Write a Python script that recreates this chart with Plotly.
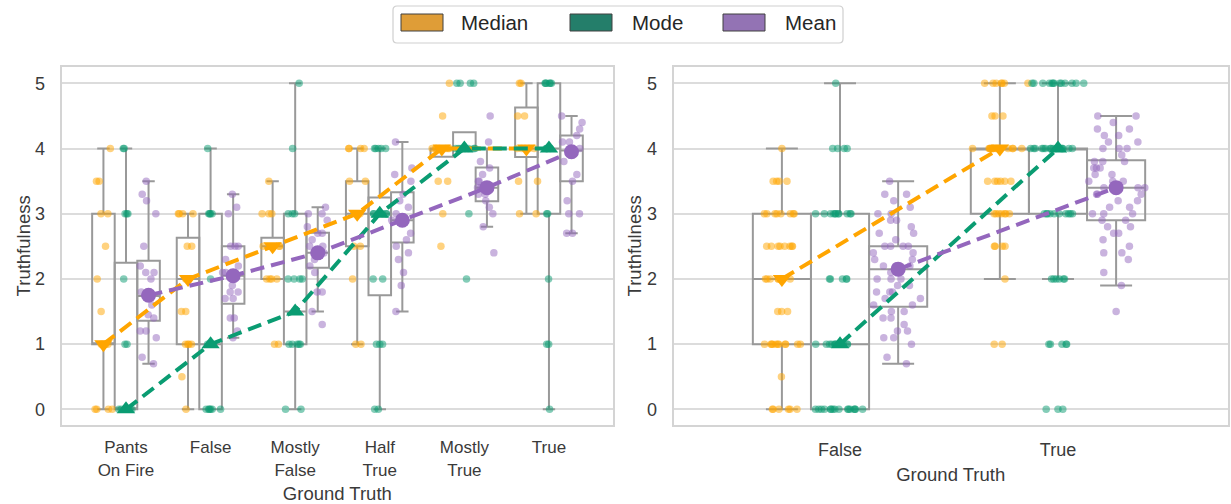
import plotly.graph_objects as go

# ---------------- data ----------------
cats_left = ["Pants On Fire", "False", "Mostly False", "Half True", "Mostly True", "True"]
ticks_left = ["Pants<br>On Fire", "False", "Mostly<br>False", "Half<br>True", "Mostly<br>True", "True"]
cats_right = ["False", "True"]

# strip points, left panel
left_median_pts = {
    "Pants On Fire": [4, 3.5, 3.5, 3, 3, 2.5, 2, 1.5, 1, 1, 1, 1, 0, 0, 0, 0],
    "False": [3, 3, 3, 3, 2.5, 2.5, 2, 2, 1.5, 1.5, 1, 1, 1, 1, 0.5, 0],
    "Mostly False": [3.5, 3, 3, 3, 2.5, 2.5, 2.5, 2, 2, 2, 2, 1, 1],
    "Half True": [4, 4, 4, 4, 3.5, 3.5, 3, 3, 2.5, 2.5, 2, 1, 1],
    "Mostly True": [5, 4.5, 4, 4, 4, 4, 4, 4, 4, 3.5, 3.5, 3, 2.5],
    "True": [5, 5, 4.5, 4.5, 4, 4, 4, 4, 4, 3.5, 3.5, 3, 3],
}
left_mode_pts = {
    "Pants On Fire": [4, 4, 3, 3, 3, 2, 1, 1, 0, 0, 0, 0, 0, 0, 0],
    "False": [4, 3, 3, 3, 3, 2, 1, 1, 1, 0, 0, 0, 0, 0, 0],
    "Mostly False": [5, 4, 3, 3, 3, 2, 2, 2, 2, 1, 1, 1, 1, 1, 0, 0],
    "Half True": [4, 4, 4, 4, 4, 3, 3, 3, 3, 3, 2, 2, 1, 1, 1, 0, 0],
    "Mostly True": [5, 5, 5, 5, 4, 4, 4, 4, 4, 4, 4, 4, 3, 2],
    "True": [5, 5, 5, 5, 5, 5, 4, 4, 4, 4, 3, 3, 2, 1, 1, 0],
}
left_mean_pts = {
    "Pants On Fire": [3.5, 3.3, 3.2, 3.0, 2.5, 2.2, 2.1, 2.1, 2.0, 1.8, 1.75, 1.6, 1.45, 1.4, 1.2, 1.2, 1.1, 0.8, 0.7],
    "False": [3.3, 3.1, 3.0, 2.5, 2.5, 2.5, 2.3, 2.2, 2.1, 2.1, 1.9, 1.8, 1.8, 1.7, 1.7, 1.4, 1.4, 1.2, 1.1],
    "Mostly False": [3.1, 3.0, 3.0, 2.9, 2.8, 2.7, 2.7, 2.6, 2.5, 2.5, 2.4, 2.4, 2.3, 2.2, 2.1, 1.8, 1.8, 1.5, 1.3],
    "Half True": [4.1, 3.7, 3.6, 3.5, 3.3, 3.2, 3.1, 3.0, 2.9, 2.7, 2.6, 2.5, 2.4, 2.3, 2.1, 1.9, 1.5],
    "Mostly True": [4.5, 4.1, 3.8, 3.7, 3.6, 3.5, 3.5, 3.4, 3.4, 3.3, 3.3, 3.2, 3.1, 3.0, 2.8, 2.4],
    "True": [4.5, 4.4, 4.3, 4.2, 4.1, 4.1, 4.0, 3.9, 3.8, 3.6, 3.5, 3.2, 3.0, 3.0, 2.7, 2.7],
}

# strip points, right panel
right_median_pts = {
    "False": [4, 3.5, 3.5, 3.5, 3.5, 3, 3, 3, 3, 3, 3, 3, 3,
              2.5, 2.5, 2.5, 2.5, 2.5, 2.5, 2.5, 2.5,
              2, 2, 2, 2, 2, 2, 2, 2, 2, 1.5, 1.5, 1.5,
              1, 1, 1, 1, 1, 1, 1, 1, 1, 1, 1, 0.5, 0, 0, 0, 0, 0, 0],
    "True": [5, 5, 5, 5, 5, 5, 5, 4.5, 4.5, 4.5,
             4, 4, 4, 4, 4, 4, 4, 4, 4, 4, 4, 4, 4, 4,
             3.5, 3.5, 3.5, 3.5, 3.5, 3.5, 3, 3, 3, 3, 3, 3, 3,
             2.5, 2.5, 2.5, 2.5, 2, 1, 1],
}
right_mode_pts = {
    "False": [5, 4, 4, 4, 4, 3, 3, 3, 3, 3, 3, 3, 3, 3, 3, 3,
              2, 2, 2, 2, 2, 1, 1, 1, 1, 1, 1, 1, 1, 1, 1, 1, 1, 1,
              0, 0, 0, 0, 0, 0, 0, 0, 0, 0, 0, 0, 0, 0, 0, 0],
    "True": [5, 5, 5, 5, 5, 5, 5, 5, 5, 5, 5, 5, 5,
             4, 4, 4, 4, 4, 4, 4, 4, 4, 4, 4, 4, 4, 4, 4,
             3, 3, 3, 3, 3, 3, 3, 3, 3, 3, 2, 2, 2, 2, 2, 2,
             1, 1, 1, 1, 1, 0, 0, 0],
}
right_mean_pts = {
    "False": [3.5, 3.3, 3.3, 3.2, 3.1, 3.0, 3.0, 2.9, 2.9, 2.8, 2.7, 2.7, 2.6,
              2.5, 2.5, 2.5, 2.5, 2.4, 2.4, 2.3, 2.3, 2.2, 2.2, 2.2, 2.1, 2.1,
              2.0, 2.0, 2.0, 1.9, 1.9, 1.8, 1.8, 1.8, 1.7, 1.7, 1.6, 1.6, 1.5,
              1.5, 1.4, 1.4, 1.3, 1.2, 1.2, 1.1, 1.1, 1.0, 0.8, 0.7],
    "True": [4.5, 4.5, 4.4, 4.3, 4.3, 4.2, 4.2, 4.1, 4.1, 4.0, 4.0, 4.0, 3.9,
             3.8, 3.8, 3.8, 3.7, 3.7, 3.7, 3.6, 3.6, 3.5, 3.5, 3.5, 3.4, 3.4,
             3.4, 3.3, 3.3, 3.3, 3.2, 3.2, 3.1, 3.1, 3.0, 3.0, 3.0, 2.9, 2.9,
             2.8, 2.8, 2.7, 2.7, 2.6, 2.5, 2.4, 2.4, 2.3, 2.1, 1.9, 1.5],
}

# box statistics: q1, median, q3, lower whisker, upper whisker
left_median_box = dict(q1=[1, 1, 2, 2.5, 3.875, 3.87], med=[1, 2, 2.5, 3, 4, 4],
                       q3=[3, 2.63, 2.63, 3.5, 4, 4.63], lo=[0, 0, 2, 1, 3.875, 3], hi=[4, 3, 3.5, 4, 4, 5])
left_mode_box = dict(q1=[0, 0, 1, 1.75, 4, 3], med=[0, 1, 1.5, 3, 4, 4],
                     q3=[2.25, 3, 3, 3.25, 4.25, 5], lo=[0, 0, 0, 0, 4, 0], hi=[4, 4, 5, 4, 4.25, 5])
left_mean_box = dict(q1=[1.36, 1.62, 2.17, 2.56, 3.19, 3.5], med=[1.74, 2.05, 2.4, 2.9, 3.4, 3.97],
                     q3=[2.28, 2.5, 2.71, 3.33, 3.71, 4.2], lo=[0.7, 1.1, 1.5, 1.5, 2.8, 2.7], hi=[3.5, 3.3, 3.1, 4.1, 4.0, 4.5])
right_median_box = dict(q1=[1, 3], med=[2, 4], q3=[3, 4], lo=[0, 2], hi=[4, 5])
right_mode_box = dict(q1=[0, 3], med=[1, 4], q3=[3, 4], lo=[0, 2], hi=[5, 5])
right_mean_box = dict(q1=[1.575, 2.9], med=[2.15, 3.4], q3=[2.5, 3.82], lo=[0.7, 1.9], hi=[3.5, 4.5])

# central estimates (dashed lines)
left_median_line = [1, 2, 2.5, 3, 4, 4]
left_mode_line = [0, 1, 1.5, 3, 4, 4]
left_mean_line = [1.75, 2.05, 2.4, 2.9, 3.4, 3.95]
right_median_line = [2, 4]
right_mode_line = [1, 4]
right_mean_line = [2.15, 3.4]

# ---------------- style ----------------
FONT = "Liberation Sans, Arial, sans-serif"
TXT = "#3a3a3a"
GRID = "#dcdcdc"
FRAME = "#d4d4d4"
BOXLINE = "#999999"
groups = ["Median", "Mode", "Mean"]
line_col = {"Median": "#FFA500", "Mode": "#0a9c72", "Mean": "#9467bd"}
pt_col = {"Median": "rgba(255,165,0,0.5)", "Mode": "rgba(10,156,114,0.5)", "Mean": "rgba(148,103,189,0.5)"}
swatch_col = {"Median": "#df9d37", "Mode": "#247e6a", "Mean": "#9373b4"}
symbols = {"Median": "triangle-down", "Mode": "triangle-up", "Mean": "circle"}
msize = {"Median": 16, "Mode": 16, "Mean": 15}

fig = go.Figure()

panels = [
    ("x", "y", cats_left,
     {"Median": left_median_box, "Mode": left_mode_box, "Mean": left_mean_box},
     {"Median": left_median_pts, "Mode": left_mode_pts, "Mean": left_mean_pts},
     {"Median": left_median_line, "Mode": left_mode_line, "Mean": left_mean_line}),
    ("x2", "y2", cats_right,
     {"Median": right_median_box, "Mode": right_mode_box, "Mean": right_mean_box},
     {"Median": right_median_pts, "Mode": right_mode_pts, "Mean": right_mean_pts},
     {"Median": right_median_line, "Mode": right_mode_line, "Mean": right_mean_line}),
]

for xa, ya, cats, boxes, pts, lines in panels:
    # boxes
    for g in groups:
        b = boxes[g]
        fig.add_trace(go.Box(
            x=cats, q1=b["q1"], median=b["med"], q3=b["q3"],
            lowerfence=b["lo"], upperfence=b["hi"],
            xaxis=xa, yaxis=ya, offsetgroup=g, alignmentgroup="boxes",
            fillcolor="rgba(255,255,255,0)", line=dict(color=BOXLINE, width=2),
            whiskerwidth=0.55, boxpoints=False, showlegend=False, hoverinfo="skip"))
    # strip points
    for g in groups:
        xs, ys = [], []
        for c in cats:
            for v in pts[g][c]:
                xs.append(c)
                ys.append(v)
        fig.add_trace(go.Box(
            x=xs, y=ys, xaxis=xa, yaxis=ya, offsetgroup=g, alignmentgroup="boxes",
            boxpoints="all", jitter=1, pointpos=0,
            fillcolor="rgba(0,0,0,0)", line=dict(color="rgba(0,0,0,0)", width=0),
            whiskerwidth=0, marker=dict(color=pt_col[g], size=7.5, line=dict(width=0)),
            showlegend=False, hoverinfo="y"))
    # dashed lines with markers
    for g in groups:
        fig.add_trace(go.Scatter(
            x=cats, y=lines[g], xaxis=xa, yaxis=ya, mode="lines+markers",
            offsetgroup=g, alignmentgroup="lines",
            line=dict(color=line_col[g], width=4, dash="14px,7px"),
            marker=dict(symbol=symbols[g], size=msize[g], color=line_col[g]),
            showlegend=False, name=g))

axis_common = dict(showline=True, mirror=True, linecolor=FRAME, linewidth=2, ticks="",
                   title_font=dict(family=FONT, size=18.5, color=TXT))
ydom = [1 - 425 / 504, 1 - 66.7 / 504]
fig.update_layout(
    width=1231, height=504, margin=dict(l=0, r=0, t=0, b=0),
    paper_bgcolor="white", plot_bgcolor="white",
    boxmode="group", boxgap=0.2, boxgroupgap=0,
    scattermode="group", scattergap=0.2,
    showlegend=False,
    xaxis=dict(domain=[61.7 / 1231, 613 / 1231], type="category",
               categoryorder="array", categoryarray=cats_left,
               tickmode="array", tickvals=cats_left, ticktext=ticks_left,
               tickfont=dict(family=FONT, size=17, color=TXT),
               range=[-0.76, 5.757], showgrid=False, anchor="y",
               title=dict(text="Ground Truth", standoff=10), ticklabelstandoff=6, **axis_common),
    yaxis=dict(domain=ydom, range=[-0.24, 5.255], tickvals=[0, 1, 2, 3, 4, 5],
               tickfont=dict(family=FONT, size=18, color=TXT),
               showgrid=True, gridcolor=GRID, gridwidth=1.5, zeroline=False, anchor="x",
               title=dict(text="Truthfulness", standoff=0), ticklabelstandoff=11, **axis_common),
    xaxis2=dict(domain=[673.5 / 1231, 1228 / 1231], type="category",
                categoryorder="array", categoryarray=cats_right,
                tickfont=dict(family=FONT, size=18, color=TXT),
                range=[-0.764, 1.78], showgrid=False, anchor="y2",
                title=dict(text="Ground Truth", standoff=9), ticklabelstandoff=7, **axis_common),
    yaxis2=dict(domain=ydom, range=[-0.24, 5.255], tickvals=[0, 1, 2, 3, 4, 5],
                tickfont=dict(family=FONT, size=18, color=TXT),
                showgrid=True, gridcolor=GRID, gridwidth=1.5, zeroline=False, anchor="x2",
                title=dict(text="Truthfulness", standoff=0), ticklabelstandoff=11, **axis_common),
)

# ---------------- legend (drawn box + swatches + labels) ----------------
W, H = 1231.0, 504.0
def px(x):
    return x / W
def py(y):
    return 1 - y / H
lx0, lx1, ly0, ly1, r = 393, 843, 6, 43, 4
path = (f"M{px(lx0 + r)},{py(ly0)} L{px(lx1 - r)},{py(ly0)} Q{px(lx1)},{py(ly0)} {px(lx1)},{py(ly0 + r)} "
        f"L{px(lx1)},{py(ly1 - r)} Q{px(lx1)},{py(ly1)} {px(lx1 - r)},{py(ly1)} "
        f"L{px(lx0 + r)},{py(ly1)} Q{px(lx0)},{py(ly1)} {px(lx0)},{py(ly1 - r)} "
        f"L{px(lx0)},{py(ly0 + r)} Q{px(lx0)},{py(ly0)} {px(lx0 + r)},{py(ly0)} Z")
shapes = [dict(type="path", xref="paper", yref="paper", path=path,
               line=dict(color="#cfcfcf", width=1.2), fillcolor="white", layer="above")]
annotations = []
swatch_x = {"Median": 401, "Mode": 570, "Mean": 723}
label_x = {"Median": 459, "Mode": 630, "Mean": 783}
for g in groups:
    sx = swatch_x[g]
    shapes.append(dict(type="rect", xref="paper", yref="paper",
                       x0=px(sx), x1=px(sx + 42), y0=py(31), y1=py(14),
                       fillcolor=swatch_col[g], line=dict(color="#404040", width=1), layer="above"))
    annotations.append(dict(xref="paper", yref="paper", x=px(label_x[g]), y=py(22.5),
                            xanchor="left", yanchor="middle", showarrow=False, text=g,
                            font=dict(family=FONT, size=20.5, color="#262626")))
fig.update_layout(shapes=shapes, annotations=annotations)

fig.write_html("out.html")
